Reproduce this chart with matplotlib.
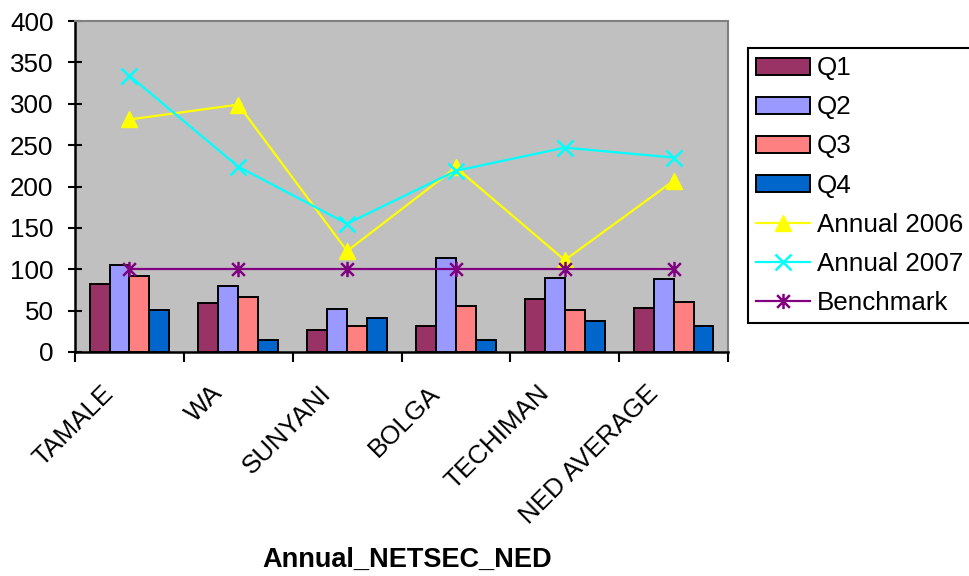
import matplotlib
matplotlib.use("Agg")
import matplotlib.pyplot as plt
from matplotlib.path import Path
from matplotlib.transforms import ScaledTranslation
import numpy as np

plt.rcParams["font.family"] = ["Liberation Sans", "DejaVu Sans"]

# Dados
regions = ["TAMALE", "WA", "SUNYANI", "BOLGA", "TECHIMAN", "NED AVERAGE"]
q1 = [82, 59, 27, 32, 64, 53]
q2 = [105, 80, 52, 114, 90, 88]
q3 = [92, 67, 31, 56, 51, 60]
q4 = [51, 15, 41, 15, 38, 32]
annual_2006 = [281, 299, 122, 223, 111, 207]
annual_2007 = [334, 224, 155, 219, 247, 235]
benchmark = [100, 100, 100, 100, 100, 100]

quarters = [("Q1", q1, "#993366"), ("Q2", q2, "#9999FF"),
            ("Q3", q3, "#FF8080"), ("Q4", q4, "#0066CC")]

# marcador estrela: x + traço vertical
star = Path([(-1, -1), (1, 1), (-1, 1), (1, -1), (0, -1.2), (0, 1.2)],
            [Path.MOVETO, Path.LINETO, Path.MOVETO, Path.LINETO,
             Path.MOVETO, Path.LINETO])

fig = plt.figure(figsize=(9.69, 5.76), dpi=100)
ax = fig.add_axes([0.0774, 0.3889, 0.6739, 0.5746])
ax.set_facecolor("#C0C0C0")

x = np.arange(len(regions))
bw = 0.183
handles = []
for i, (name, vals, col) in enumerate(quarters):
    h = ax.bar(x + (i - 1.5) * bw, vals, bw, color=col, edgecolor="black",
               linewidth=1.4, label=name, zorder=2)
    handles.append(h)

handles += ax.plot(x, annual_2006, color="#FFFF00", lw=1.6, marker="^",
                   ms=12, label="Annual 2006", zorder=3)
handles += ax.plot(x, annual_2007, color="#00FFFF", lw=1.6, marker="x",
                   ms=11, mew=1.8, label="Annual 2007", zorder=3)
handles += ax.plot(x, benchmark, color="#800080", lw=1.6, marker=star,
                   ms=11, mew=1.8, label="Benchmark", zorder=3)

ax.set_xlim(-0.5, len(regions) - 0.5)
ax.set_ylim(0, 400)
ax.set_yticks(np.arange(0, 401, 50))
ax.tick_params(axis="y", direction="inout", length=10, width=1.5,
               labelsize=18.7, pad=10.5)

# ticks nos limites das categorias, rótulos no centro
ax.set_xticks(np.arange(-0.5, len(regions), 1.0))
ax.set_xticklabels([])
ax.tick_params(axis="x", which="major", direction="out", length=7, width=1.5)
ax.set_xticks(x, minor=True)
ax.set_xticklabels(regions, minor=True, rotation=45, ha="right", va="top",
                   fontsize=18.7)
ax.tick_params(axis="x", which="minor", length=0, pad=21)
shift = ScaledTranslation(-0.11, 0, fig.dpi_scale_trans)
for lab in ax.get_xticklabels(minor=True):
    lab.set_transform(lab.get_transform() + shift)

for s in ["left", "bottom"]:
    ax.spines[s].set_color("black")
    ax.spines[s].set_linewidth(1.8)
for s in ["top", "right"]:
    ax.spines[s].set_color("#808080")
    ax.spines[s].set_linewidth(1.5)

leg = fig.legend(handles=handles, loc="upper left",
                 bbox_to_anchor=(748 / 969, 1 - 48 / 576),
                 fontsize=18.7, frameon=True, fancybox=False, shadow=False,
                 edgecolor="black", framealpha=1, handlelength=2.08,
                 handleheight=0.65, handletextpad=0.25, labelspacing=0.58,
                 borderpad=0.32, borderaxespad=0)
leg.get_frame().set_linewidth(1.5)

fig.text(407 / 969, 1 - 560 / 576, "Annual_NETSEC_NED", ha="center",
         va="center", fontsize=19.5, fontweight="bold")

fig.savefig("out.png", dpi=100, facecolor="white")
